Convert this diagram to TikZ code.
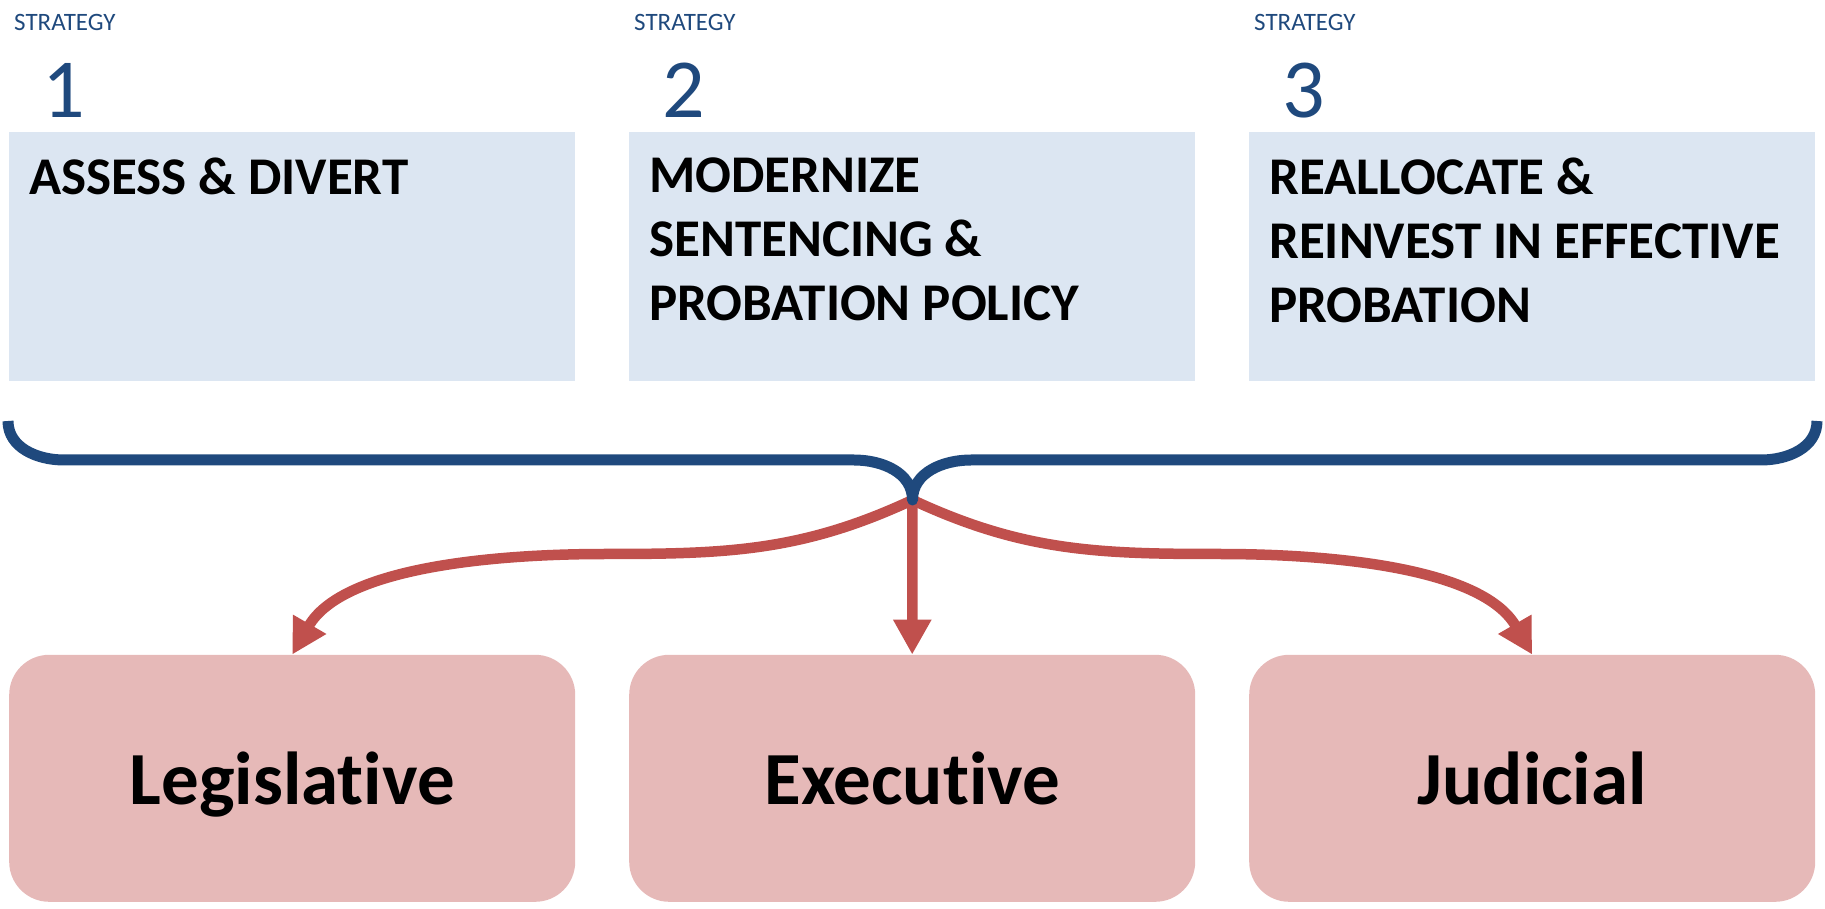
\documentclass[tikz,border=0pt]{standalone}
\usepackage{fontspec}
\setmainfont{Carlito}[Ligatures=NoCommon]
\usetikzlibrary{arrows.meta}
\definecolor{stratblue}{HTML}{1F497D}
\definecolor{boxblue}{HTML}{DCE6F2}
\definecolor{arrowred}{HTML}{C0504D}
\definecolor{boxred}{HTML}{E6B9B8}
\begin{document}
\begin{tikzpicture}[x=1pt,y=1pt,
  stratbox/.style={fill=boxblue, minimum width=566pt, minimum height=249.5pt, anchor=north west, inner sep=0pt},
  branchbox/.style={fill=boxred, rounded corners=40pt, minimum width=566pt, minimum height=247pt, anchor=south west, inner sep=0pt, font=\fontsize{75}{75}\selectfont\bfseries, text height=53pt, text depth=0pt},
  stratlabel/.style={text=stratblue, font=\fontsize{25}{30}\selectfont, anchor=base west, inner sep=0pt},
  stratnum/.style={text=stratblue, font=\fontsize{84}{90}\selectfont, anchor=base west, inner sep=0pt},
  strattext/.style={font=\fontsize{53}{64}\selectfont\bfseries, align=left, anchor=north west, inner sep=0pt},
  brace/.style={draw=stratblue, line width=11pt, line join=round},
  flow/.style={draw=arrowred, line width=10.5pt, -{Triangle[length=35pt,width=36pt]}}]
  \useasboundingbox (0,0) rectangle (1825,908);
  \def\colstep{620}
  % three strategies, each with its branch box below
  \foreach \i/\txt/\branch in {1/{ASSESS \& DIVERT}/Legislative,
      2/{MODERNIZE\\SENTENCING \&\\PROBATION POLICY}/Executive,
      3/{REALLOCATE \&\\REINVEST IN EFFECTIVE\\PROBATION}/Judicial} {
    \pgfmathsetmacro\xleft{9+(\i-1)*\colstep}
    \node[stratbox] (strat\i) at (\xleft,776.5) {};
    \node[stratlabel] (label\i) at ([shift={(5,100.5)}]strat\i.north west) {STRATEGY};
    \node[stratnum] (num\i) at ([shift={(33,13.5)}]strat\i.north west) {\i};
    \node[strattext] (text\i) at ([shift={(20,-26.5)}]strat\i.north west) {\txt};
    \node[branchbox] (branch\i) at (\xleft,6) {\branch};
  }
  % brace tip and flattening points of the arrows
  \coordinate (tip) at (912.5,408);
  \coordinate (midL) at (605,354);
  \coordinate (midR) at (1220,354);
  \draw[flow] (tip) to[out=205,in=0] (midL) to[out=180,in=60,looseness=0.8] (branch1.north);
  \draw[flow] (tip) -- (branch2.north);
  \draw[flow] (tip) to[out=-25,in=180] (midR) to[out=0,in=120,looseness=0.8] (branch3.north);
  % the brace
  \draw[brace] (8,487) to[out=-90,in=180] (64,448) -- (854,448) to[out=0,in=90] (tip)
    to[out=90,in=180] (971,448) -- (1761,448) to[out=0,in=-90] (1817,487);
\end{tikzpicture}
\end{document}
